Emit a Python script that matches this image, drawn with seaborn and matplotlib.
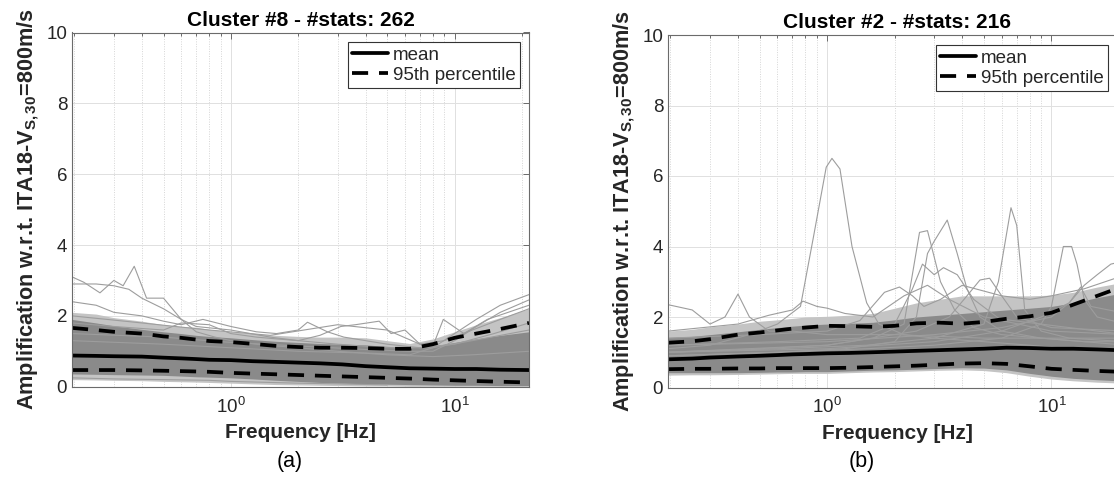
import numpy as np
import pandas as pd
import matplotlib
matplotlib.use("Agg")
import matplotlib.pyplot as plt
import seaborn as sns
from matplotlib.ticker import LogLocator, NullFormatter

# ---------------- data ----------------
freq = [0.195, 0.25, 0.3, 0.4, 0.5, 0.6, 0.7, 0.8, 1.0, 1.25, 1.6, 2.0,
        2.5, 3.15, 4.0, 5.0, 6.3, 8.0, 10.0, 12.5, 16.0, 21.5]

# Panel (a) Cluster #8
a_title = "Cluster #8 - #stats: 262"
a_mean = [0.88, 0.87, 0.86, 0.85, 0.82, 0.80, 0.78, 0.76, 0.75, 0.72, 0.70, 0.68,
          0.66, 0.63, 0.58, 0.55, 0.52, 0.51, 0.50, 0.50, 0.48, 0.47]
a_p95_hi = [1.66, 1.60, 1.55, 1.50, 1.42, 1.38, 1.33, 1.29, 1.26, 1.21, 1.15, 1.12,
            1.10, 1.10, 1.09, 1.07, 1.07, 1.20, 1.38, 1.50, 1.63, 1.80]
a_p95_lo = [0.47, 0.47, 0.47, 0.46, 0.45, 0.44, 0.43, 0.42, 0.39, 0.37, 0.35, 0.33,
            0.31, 0.29, 0.27, 0.25, 0.23, 0.20, 0.18, 0.16, 0.14, 0.12]
a_dense_hi = [1.90, 1.80, 1.72, 1.62, 1.55, 1.50, 1.45, 1.42, 1.38, 1.33, 1.28, 1.25,
              1.22, 1.20, 1.18, 1.14, 1.10, 1.15, 1.25, 1.35, 1.45, 1.55]
a_dense_lo = [0.36, 0.35, 0.34, 0.33, 0.32, 0.30, 0.28, 0.27, 0.25, 0.22, 0.18, 0.15,
              0.12, 0.10, 0.08, 0.07, 0.06, 0.05, 0.04, 0.04, 0.03, 0.03]
a_sparse_hi = [2.10, 2.05, 1.95, 1.85, 1.75, 1.70, 1.68, 1.62, 1.55, 1.50, 1.45, 1.42,
               1.40, 1.40, 1.38, 1.30, 1.22, 1.35, 1.55, 1.75, 1.95, 2.20]
a_sparse_lo = [0.20, 0.19, 0.18, 0.17, 0.15, 0.14, 0.13, 0.12, 0.10, 0.08, 0.06, 0.05,
               0.04, 0.03, 0.02, 0.02, 0.01, 0.01, 0.01, 0.01, 0.01, 0.01]

a_c1_f = [0.195, 0.22, 0.26, 0.3, 0.33, 0.37, 0.42, 0.5, 0.6, 0.7, 0.85, 1.0, 1.3, 1.6, 2, 3, 5, 8, 12, 21.5]
a_c1_y = [3.1, 2.95, 2.65, 3.0, 2.85, 3.4, 2.5, 2.5, 1.9, 1.55, 1.4, 1.3, 1.2, 1.15, 1.1, 1.0, 0.9, 0.85, 0.9, 1.0]
a_c2_f = [0.195, 0.25, 0.3, 0.35, 0.4, 0.5, 0.6, 0.7, 1.0, 1.5, 2, 3, 5, 8, 12, 21.5]
a_c2_y = [2.9, 2.9, 2.85, 2.75, 2.5, 2.2, 1.9, 1.7, 1.6, 1.4, 1.3, 1.2, 1.1, 1.1, 1.3, 1.6]
a_c3_f = [0.195, 0.25, 0.3, 0.4, 0.5, 0.6, 0.75, 1.0, 1.3, 1.6, 2.0, 2.2, 2.7, 3.2, 4, 5, 7, 10, 15, 21.5]
a_c3_y = [2.4, 2.3, 2.1, 2.0, 1.85, 1.75, 1.9, 1.7, 1.55, 1.5, 1.6, 1.82, 1.55, 1.4, 1.3, 1.2, 1.1, 1.2, 1.5, 1.8]
a_c4_f = [0.195, 0.3, 0.5, 0.6, 0.8, 1.0, 1.3, 1.6, 2, 2.5, 3.1, 3.6, 4.6, 5.2, 6.0, 7, 8, 8.9, 11, 14, 21.5]
a_c4_y = [1.8, 1.7, 1.6, 1.8, 1.75, 1.5, 1.4, 1.35, 1.3, 1.45, 1.7, 1.75, 1.85, 1.5, 1.6, 1.2, 1.15, 1.9, 1.5, 1.9, 2.3]
a_c5_f = [0.195, 0.5, 1, 2, 4, 6.3, 8, 10, 12.5, 16, 21.5]
a_c5_y = [1.3, 1.2, 1.1, 1.0, 0.95, 0.9, 1.1, 1.5, 1.9, 2.3, 2.6]
a_c6_f = [0.195, 0.5, 1, 2, 4, 6.3, 8, 10, 12.5, 16, 21.5]
a_c6_y = [1.5, 1.4, 1.25, 1.15, 1.05, 1.0, 1.0, 1.3, 1.7, 2.1, 2.45]
a_c7_f = [0.195, 0.4, 0.8, 1.5, 3, 5, 7, 9, 12, 16, 21.5]
a_c7_y = [2.0, 1.8, 1.6, 1.45, 1.75, 1.6, 1.2, 1.3, 1.6, 1.9, 2.2]
a_c8_f = [0.195, 0.3, 0.5, 0.8, 1.0, 1.5, 2, 3, 5]
a_c8_y = [0.25, 0.22, 0.2, 0.18, 0.15, 0.12, 0.1, 0.08, 0.05]
a_curves = [(a_c1_f, a_c1_y), (a_c2_f, a_c2_y), (a_c3_f, a_c3_y), (a_c4_f, a_c4_y),
            (a_c5_f, a_c5_y), (a_c6_f, a_c6_y), (a_c7_f, a_c7_y), (a_c8_f, a_c8_y)]

# Panel (b) Cluster #2
b_title = "Cluster #2 - #stats: 216"
b_mean = [0.80, 0.82, 0.85, 0.88, 0.90, 0.92, 0.94, 0.95, 0.97, 0.98, 1.00, 1.02,
          1.04, 1.06, 1.08, 1.10, 1.13, 1.12, 1.10, 1.10, 1.08, 1.05]
b_p95_hi = [1.27, 1.31, 1.37, 1.50, 1.56, 1.62, 1.67, 1.70, 1.75, 1.74, 1.72, 1.75,
            1.82, 1.84, 1.81, 1.86, 1.95, 2.02, 2.12, 2.35, 2.60, 2.90]
b_p95_lo = [0.52, 0.53, 0.53, 0.54, 0.54, 0.55, 0.55, 0.55, 0.55, 0.56, 0.58, 0.60,
            0.62, 0.65, 0.68, 0.69, 0.67, 0.60, 0.53, 0.50, 0.47, 0.44]
b_dense_hi = [1.42, 1.45, 1.50, 1.58, 1.65, 1.70, 1.74, 1.77, 1.80, 1.82, 1.85, 1.92,
              2.00, 2.05, 2.10, 2.15, 2.20, 2.25, 2.30, 2.40, 2.55, 2.70]
b_dense_lo = [0.42, 0.42, 0.42, 0.42, 0.43, 0.44, 0.44, 0.45, 0.45, 0.47, 0.49, 0.50,
              0.52, 0.54, 0.56, 0.55, 0.50, 0.40, 0.32, 0.26, 0.22, 0.18]
b_sparse_hi = [1.60, 1.65, 1.72, 1.80, 1.88, 1.92, 1.96, 2.00, 2.02, 2.05, 2.10, 2.25,
               2.40, 2.50, 2.60, 2.60, 2.60, 2.60, 2.62, 2.70, 2.85, 3.00]
b_sparse_lo = [0.35, 0.36, 0.36, 0.37, 0.38, 0.39, 0.40, 0.40, 0.40, 0.42, 0.44, 0.45,
               0.47, 0.49, 0.50, 0.48, 0.42, 0.32, 0.24, 0.19, 0.15, 0.12]

b_c1_f = [0.195, 0.3, 0.45, 0.6, 0.76, 0.87, 0.99, 1.05, 1.14, 1.29, 1.5, 1.7, 2.2, 3, 5, 8, 12, 21.5]
b_c1_y = [1.1, 1.2, 1.5, 1.8, 2.3, 4.3, 6.25, 6.5, 6.2, 4.0, 2.4, 1.8, 1.5, 1.4, 1.3, 1.2, 1.1, 1.0]
b_c2_f = [0.195, 0.5, 1, 1.6, 2.2, 2.58, 2.8, 3.2, 3.7, 4.5, 6, 9, 14, 21.5]
b_c2_y = [1.0, 1.1, 1.2, 1.4, 1.8, 4.4, 4.45, 3.0, 2.2, 1.7, 1.5, 1.4, 1.3, 1.2]
b_c3_f = [0.195, 0.6, 1.2, 2, 2.5, 2.8, 3.0, 3.43, 3.8, 4.2, 4.8, 6, 9, 14, 21.5]
b_c3_y = [0.9, 1.0, 1.1, 1.3, 2.0, 3.8, 4.15, 4.75, 3.8, 2.8, 2.0, 1.6, 1.4, 1.3, 1.3]
b_c4_f = [0.195, 0.6, 1.5, 3, 5, 5.8, 6.6, 7.0, 7.6, 9, 12, 21.5]
b_c4_y = [1.0, 1.1, 1.2, 1.4, 1.8, 3.0, 5.1, 4.6, 2.2, 1.6, 1.4, 1.3]
b_c5_f = [0.195, 0.6, 1.5, 3, 6, 9, 10, 11.3, 12.3, 13, 14, 16, 21.5]
b_c5_y = [0.9, 1.0, 1.1, 1.2, 1.4, 1.8, 2.3, 4.0, 4.0, 3.5, 2.5, 2.0, 1.8]
b_c6_f = [0.195, 0.6, 1.4, 2.0, 2.4, 2.66, 3.0, 3.3, 3.8, 4.5, 6, 10, 21.5]
b_c6_y = [1.2, 1.3, 1.4, 1.8, 2.8, 3.5, 3.2, 3.4, 3.2, 2.5, 1.9, 1.6, 1.5]
b_c7_f = [0.195, 1, 2.5, 3.5, 4.2, 4.8, 5.3, 6.0, 7, 10, 21.5]
b_c7_y = [1.0, 1.2, 1.6, 2.0, 2.6, 3.05, 3.1, 2.6, 2.0, 1.7, 1.6]
b_c8_f = [0.195, 0.25, 0.3, 0.35, 0.4, 0.45, 0.55, 0.7, 1.0, 2, 5, 21.5]
b_c8_y = [2.35, 2.2, 1.8, 2.0, 2.65, 2.0, 1.6, 1.6, 1.5, 1.5, 1.4, 1.4]
b_c9_f = [0.195, 0.4, 0.55, 0.7, 0.78, 0.9, 1.0, 1.2, 1.6, 2.2, 2.8, 3.5, 5, 21.5]
b_c9_y = [1.6, 1.8, 2.05, 2.2, 2.45, 2.3, 2.25, 2.1, 2.0, 2.6, 2.9, 2.5, 2.0, 1.5]
b_c10_f = [0.195, 0.5, 1.0, 1.4, 1.8, 2.1, 2.4, 2.7, 3.2, 4, 6, 8, 10, 14, 21.5]
b_c10_y = [1.4, 1.5, 1.6, 1.9, 2.7, 2.85, 2.6, 2.3, 2.5, 2.9, 2.6, 2.5, 2.6, 2.8, 3.2]
b_c11_f = [0.195, 1, 3, 6, 9, 12, 14, 16, 18.4, 21.5]
b_c11_y = [1.0, 1.1, 1.3, 1.6, 2.0, 2.4, 2.9, 3.2, 3.5, 3.6]
b_c12_f = [0.195, 1, 3, 6, 10, 12, 13.5, 15, 21.5]
b_c12_y = [1.2, 1.3, 1.5, 1.7, 2.0, 2.4, 2.85, 2.3, 2.1]
b_curves = [(b_c1_f, b_c1_y), (b_c2_f, b_c2_y), (b_c3_f, b_c3_y), (b_c4_f, b_c4_y),
            (b_c5_f, b_c5_y), (b_c6_f, b_c6_y), (b_c7_f, b_c7_y), (b_c8_f, b_c8_y),
            (b_c9_f, b_c9_y), (b_c10_f, b_c10_y), (b_c11_f, b_c11_y), (b_c12_f, b_c12_y)]

y_ticks = [0, 2, 4, 6, 8, 10]
xlabel_text = "Frequency [Hz]"
ylabel_text = r"Amplification w.r.t. ITA18-V$_{\mathbf{S,30}}$=800m/s"
panel_labels = ["(a)", "(b)"]

# ---------------- style ----------------
sns.set_style("white")
plt.rcParams["font.family"] = ["Liberation Sans", "DejaVu Sans"]
plt.rcParams["mathtext.fontset"] = "custom"
plt.rcParams["mathtext.rm"] = "Liberation Sans"
plt.rcParams["mathtext.it"] = "Liberation Sans:italic"
plt.rcParams["mathtext.bf"] = "Liberation Sans:bold"

W, H = 1114, 479
fig = plt.figure(figsize=(W / 100, H / 100), dpi=100)

def px_axes(x0, y_top, x1, y_bot):
    return fig.add_axes([x0 / W, (H - y_bot) / H, (x1 - x0) / W, (y_bot - y_top) / H])

ax_a = px_axes(72, 32.5, 529, 386.7)
ax_b = px_axes(668, 35, 1126, 387.5)

DASH = (0, (4.3, 2.9))
TXT = "#262626"

def draw_panel(ax, title, mean, hi, lo, dense_hi, dense_lo, sparse_hi, sparse_lo, curves, leg_box):
    ax.fill_between(freq, sparse_lo, sparse_hi, color="#c4c4c4", lw=0, zorder=1)
    ax.fill_between(freq, dense_lo, dense_hi, color="#8a8a8a", lw=0, zorder=2)
    for cf, cy in curves:
        sns.lineplot(x=cf, y=cy, ax=ax, color="#9d9d9d", lw=0.8, estimator=None,
                     sort=False, legend=False, zorder=3)
    sns.lineplot(x=freq, y=mean, ax=ax, color="black", lw=2.7, estimator=None,
                 legend=False, zorder=5, label="mean")
    sns.lineplot(x=freq, y=hi, ax=ax, color="black", lw=2.7, linestyle=DASH,
                 estimator=None, legend=False, zorder=5, label="95th percentile")
    sns.lineplot(x=freq, y=lo, ax=ax, color="black", lw=2.7, linestyle=DASH,
                 estimator=None, legend=False, zorder=5)

    ax.set_xscale("log")
    ax.set_xlim(0.195, 21.5)
    ax.set_ylim(0, 10)
    ax.set_yticks(y_ticks)
    ax.xaxis.set_major_locator(LogLocator(base=10))
    ax.xaxis.set_minor_locator(LogLocator(base=10, subs=np.arange(2, 10)))
    ax.xaxis.set_minor_formatter(NullFormatter())
    ax.grid(True, which="major", axis="both", color="#e0e0e0", lw=0.7, zorder=0)
    ax.grid(True, which="minor", axis="x", color="#d5d5d5", lw=0.7, ls=(0, (1, 1.5)), zorder=0)
    ax.set_axisbelow(True)
    for s in ax.spines.values():
        s.set_color("#6b6b6b")
        s.set_linewidth(0.8)
        s.set_zorder(6)
    ax.tick_params(which="both", direction="in", top=True, right=True,
                   colors="#6b6b6b", labelcolor=TXT, labelsize=13.5, width=0.7)
    ax.tick_params(which="major", length=4)
    ax.tick_params(which="minor", length=2.5)
    ax.tick_params(axis="x", pad=7)

    ax.set_title(title, fontsize=15, fontweight="bold", color="black", pad=5)
    ax.set_xlabel(xlabel_text, fontsize=15, fontweight="bold", color=TXT, labelpad=5)
    ax.set_ylabel(ylabel_text, fontsize=15.6, fontweight="bold", color=TXT, labelpad=4)

    handles = [l for l in ax.get_lines() if l.get_label() in ("mean", "95th percentile")]
    x_right, y_top = leg_box
    p = ax.get_position()
    ax_x = (x_right / W - p.x0) / p.width
    ax_y = ((H - y_top) / H - p.y0) / p.height
    leg = ax.legend(handles=handles, labels=[h.get_label() for h in handles],
                    loc="upper right", bbox_to_anchor=(ax_x, ax_y), borderaxespad=0,
                    fontsize=13.5, frameon=True, fancybox=False, framealpha=1,
                    edgecolor="#333333", borderpad=0.25, labelspacing=0.15,
                    handlelength=1.9, handletextpad=0.25)
    leg.get_frame().set_linewidth(0.8)
    for t in leg.get_texts():
        t.set_color(TXT)
    leg.set_zorder(10)

draw_panel(ax_a, a_title, a_mean, a_p95_hi, a_p95_lo, a_dense_hi, a_dense_lo,
           a_sparse_hi, a_sparse_lo, a_curves, (520, 42))
draw_panel(ax_b, b_title, b_mean, b_p95_hi, b_p95_lo, b_dense_hi, b_dense_lo,
           b_sparse_hi, b_sparse_lo, b_curves, (1108, 45))

fig.text(290 / W, (H - 462) / H, panel_labels[0], fontsize=15.5, ha="center", va="center", color="black")
fig.text(862 / W, (H - 462) / H, panel_labels[1], fontsize=15.5, ha="center", va="center", color="black")

fig.savefig("out.png", dpi=100)
